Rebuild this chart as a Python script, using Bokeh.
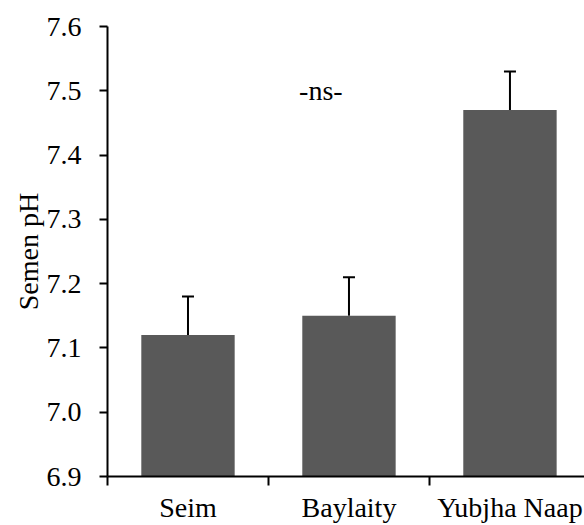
from bokeh.plotting import figure
from bokeh.models import ColumnDataSource, FixedTicker, Whisker, TeeHead, Label, Range1d
from bokeh.embed import file_html
from bokeh.resources import INLINE

categories = ["Seim", "Baylaity", "Yubjha Naap"]
values = [7.12, 7.15, 7.47]
errors = [0.06, 0.06, 0.06]
y_ticks = [6.9, 7.0, 7.1, 7.2, 7.3, 7.4, 7.5, 7.6]

FONT = "Liberation Serif"
xs = [i + 0.5 for i in range(len(categories))]
src = ColumnDataSource(dict(
    x=xs, top=values,
    upper=[v + e for v, e in zip(values, errors)],
))

p = figure(width=584, height=525, output_backend="svg", toolbar_location=None,
           x_range=Range1d(0, 2.963), y_range=Range1d(6.9, 7.6),
           min_border_left=107, min_border_right=0, min_border_top=26,
           min_border_bottom=40)
p.outline_line_color = None
p.grid.grid_line_color = None
p.background_fill_color = "white"

p.vbar(x="x", top="top", bottom=6.9, width=0.58, source=src,
       fill_color="#595959", line_color=None)

w = Whisker(base="x", lower="top", upper="upper", source=src,
            line_color="black", line_width=2,
            upper_head=TeeHead(size=12, line_color="black", line_width=2),
            lower_head=None)
p.add_layout(w)

p.add_layout(Label(x=1.19, y=7.50, text="-ns-", text_font=FONT,
                   text_font_size="28px", text_color="black",
                   text_align="left", text_baseline="middle"))

# y axis
p.yaxis.ticker = FixedTicker(ticks=y_ticks)
p.yaxis.major_label_overrides = {t: f"{t:.1f}" for t in y_ticks}
p.yaxis.minor_tick_line_color = None
p.yaxis.major_tick_out = 8
p.yaxis.major_tick_in = 0
p.yaxis.major_label_standoff = 18
p.yaxis.major_label_text_font = FONT
p.yaxis.major_label_text_font_size = "28px"
p.yaxis.major_label_text_color = "black"
p.yaxis.axis_label = "Semen pH"
p.yaxis.axis_label_text_font = FONT
p.yaxis.axis_label_text_font_size = "28px"
p.yaxis.axis_label_text_font_style = "normal"
p.yaxis.axis_label_text_color = "black"
p.yaxis.axis_label_standoff = 0
p.yaxis.axis_line_width = 2
p.yaxis.major_tick_line_width = 2

# x axis: labels at centers, ticks at category boundaries
p.xaxis.ticker = FixedTicker(ticks=xs, minor_ticks=list(range(len(categories) + 1)))
p.xaxis.major_label_overrides = {x: c for x, c in zip(xs, categories)}
p.xaxis.major_tick_out = 0
p.xaxis.major_tick_in = 0
p.xaxis.minor_tick_out = 9
p.xaxis.minor_tick_in = 0
p.xaxis.minor_tick_line_width = 2
p.xaxis.axis_line_width = 2
p.xaxis.major_label_standoff = 6
p.xaxis.major_label_text_font = FONT
p.xaxis.major_label_text_font_size = "28px"
p.xaxis.major_label_text_color = "black"

open("out.html", "w").write(file_html(p, INLINE))
